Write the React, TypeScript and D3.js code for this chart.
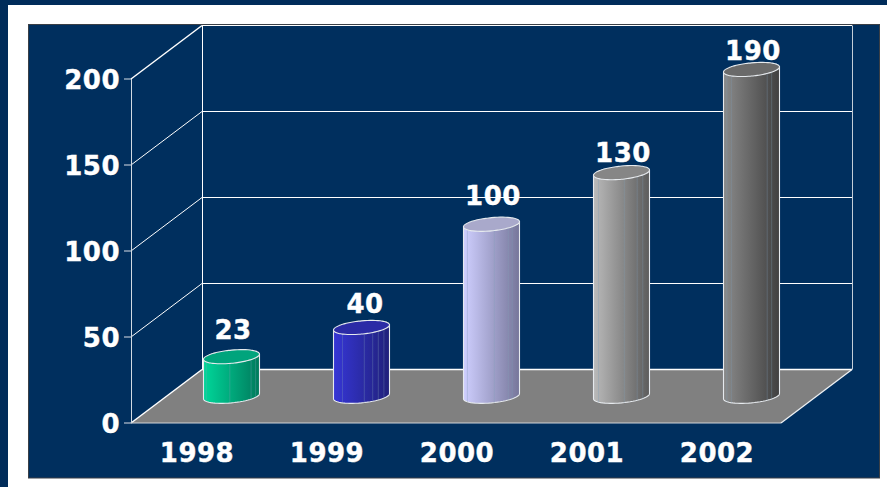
import { useEffect, useRef } from "react";
import * as d3 from "d3";

const years = ["1998", "1999", "2000", "2001", "2002"];
const values = [23, 40, 100, 130, 190];
const yTicks = [0, 50, 100, 150, 200];

// gradient stops: left light, right dark, and the flat top colour
const lightColors = ["#00d79a", "#3636d6", "#cfcfff", "#bababa", "#8a8a8a"];
const darkColors = ["#007a5c", "#20207a", "#76769a", "#5c5c5c", "#404040"];
const topColors = ["#00a47c", "#2b2ba6", "#a9a9cb", "#868686", "#6a6a6a"];

// the labels in the picture do not sit at a constant distance from the tops
const labelLift = [18, 14, 19, 11, 9];
// vertical streaks on the cylinder bodies, as a share of the width
const streaks = [
  [0.05, 0.47, 0.85, 0.93],
  [0.16, 0.55, 0.7, 0.8, 0.9],
  [0.07, 0.55, 0.8, 0.87],
  [0.09, 0.55, 0.78, 0.88],
  [0.06, 0.14, 0.78, 0.86],
];

const font = "'DejaVu Sans', Verdana, sans-serif";

export default function App() {
  const svgRef = useRef<SVGSVGElement>(null);

  useEffect(() => {
    if (!svgRef.current) return;
    const svg = d3.select(svgRef.current);
    svg.selectAll("*").remove();

    const depthX = 71;
    const depthY = -53.5;
    const x = d3.scaleBand<string>().domain(years).range([131, 781]).padding(0);
    const y = d3.scaleLinear().domain([0, 200]).range([423, 79]);
    const floorLeft = 131;
    const floorRight = 781;

    // page background and plot panel
    svg.append("rect").attr("width", 887).attr("height", 487).attr("fill", "#002c5a");
    svg.append("rect").attr("x", 8).attr("y", 5).attr("width", 879).attr("height", 482).attr("fill", "#ffffff");
    svg.append("rect").attr("x", 28.5).attr("y", 24.5).attr("width", 851).attr("height", 453.5).attr("fill", "#002f5e")
      .attr("stroke", "#3a3f46").attr("stroke-width", 1);

    const walls = svg.append("g").attr("fill", "none");

    // floor
    walls
      .append("polygon")
      .attr(
        "points",
        [
          [floorLeft, y(0)],
          [floorLeft + depthX, y(0) + depthY],
          [floorRight + depthX, y(0) + depthY],
          [floorRight, y(0)],
        ].join(" ")
      )
      .attr("fill", "#808080");

    // gridlines on the side and back walls
    yTicks.forEach((t) => {
      const yy = y(t);
      walls.append("line")
        .attr("x1", floorLeft).attr("y1", yy).attr("x2", floorLeft + depthX).attr("y2", yy + depthY)
        .attr("stroke", "#ffffff").attr("stroke-width", t === 0 || t === 200 ? 1.5 : 1);
      walls.append("line")
        .attr("x1", floorLeft + depthX).attr("y1", yy + depthY).attr("x2", floorRight + depthX).attr("y2", yy + depthY)
        .attr("stroke", "#ffffff").attr("stroke-width", t === 0 ? 1.6 : 1);
      walls.append("line")
        .attr("x1", floorLeft - 7).attr("y1", yy).attr("x2", floorLeft).attr("y2", yy)
        .attr("stroke", "#b8c4d0").attr("stroke-width", 1.2);
    });

    // wall edges
    const edge = (x1: number, y1: number, x2: number, y2: number, c: string, w = 1) =>
      walls.append("line").attr("x1", x1).attr("y1", y1).attr("x2", x2).attr("y2", y2).attr("stroke", c).attr("stroke-width", w);
    edge(floorLeft + 0.5, y(200), floorLeft + 0.5, y(0), "#d2dae2", 1);
    edge(floorLeft + depthX + 0.5, y(200) + depthY, floorLeft + depthX + 0.5, y(0) + depthY, "#ffffff");
    edge(floorRight + depthX + 0.5, y(200) + depthY, floorRight + depthX + 0.5, y(0) + depthY, "#c4ced8");
    edge(floorLeft, y(0), floorRight, y(0), "#d0d4d8", 1.2);
    edge(floorRight, y(0), floorRight + depthX, y(0) + depthY, "#eef1f4", 1.3);

    // cylinders
    const defs = svg.append("defs");
    const radius = 28;
    const ringX = (cx: number, t: number) => cx + radius * Math.cos(t);
    const ringY = (cy: number, t: number) => cy - 2.6 * Math.cos(t) - 6.6 * Math.sin(t);
    const angles = d3.range(0, 360, 6).map((a) => (a * Math.PI) / 180);
    const lowerAngles = d3.range(180, 361, 6).map((a) => (a * Math.PI) / 180);
    const ring = d3.line<[number, number]>().curve(d3.curveCatmullRomClosed);
    const open = d3.line<[number, number]>();

    const cylinders = svg.append("g");
    years.forEach((year, i) => {
      const cx = (x(year) || 0) + x.bandwidth() / 2 + depthX / 2;
      const baseY = y(0) + depthY / 2;
      const topY = baseY - (y(0) - y(values[i]));

      const grad = defs.append("linearGradient").attr("id", `body-${i}`).attr("x1", 0).attr("x2", 1).attr("y1", 0).attr("y2", 0);
      grad.append("stop").attr("offset", 0).attr("stop-color", lightColors[i]);
      grad.append("stop").attr("offset", 1).attr("stop-color", darkColors[i]);

      const bodyPts: [number, number][] = [
        [ringX(cx, Math.PI), ringY(topY, Math.PI)],
        ...lowerAngles.map((t): [number, number] => [ringX(cx, t), ringY(baseY, t)]),
        [ringX(cx, 0), ringY(topY, 0)],
      ];
      cylinders.append("path")
        .attr("d", open(bodyPts) + "Z")
        .attr("fill", `url(#body-${i})`)
        .attr("stroke", "#e6eaee")
        .attr("stroke-width", 1.1);

      streaks[i].forEach((s) => {
        const sx = cx - radius + s * radius * 2;
        const t = Math.acos((sx - cx) / radius);
        cylinders.append("line")
          .attr("x1", sx).attr("x2", sx)
          .attr("y1", ringY(topY, -t))
          .attr("y2", ringY(baseY, -t))
          .attr("stroke", "#7f9cb8")
          .attr("stroke-opacity", 0.4)
          .attr("stroke-width", 0.8);
      });

      cylinders.append("path")
        .attr("d", ring(angles.map((t): [number, number] => [ringX(cx, t), ringY(topY, t)])))
        .attr("fill", topColors[i])
        .attr("stroke", "#e6eaee")
        .attr("stroke-width", 1.1);

      svg.append("text")
        .attr("x", cx + (i === 1 ? 3.5 : 1.5))
        .attr("y", topY - labelLift[i])
        .attr("text-anchor", "middle")
        .style("font-family", font)
        .style("font-size", "26px")
        .style("font-weight", "700")
        .style("letter-spacing", "0.5px")
        .style("stroke", "#ffffff")
        .style("stroke-width", "0.4px")
        .style("fill", "#ffffff")
        .text(values[i]);
    });

    // axis labels
    const labels = svg.append("g")
      .style("font-family", font)
      .style("font-size", "26px")
      .style("font-weight", "700")
      .style("letter-spacing", "0.5px")
      .style("stroke", "#ffffff")
      .style("stroke-width", "0.4px")
      .style("fill", "#ffffff");
    yTicks.forEach((t) => {
      labels.append("text")
        .attr("x", floorLeft - 11)
        .attr("y", y(t) + 10)
        .attr("text-anchor", "end")
        .text(t);
    });
    years.forEach((year) => {
      labels.append("text")
        .attr("x", (x(year) || 0) + x.bandwidth() / 2 + 1)
        .attr("y", 461.5)
        .attr("text-anchor", "middle")
        .text(year);
    });
  }, []);

  return (
    <svg
      ref={svgRef}
      width={887}
      height={487}
      style={{ position: "absolute", left: 0, top: 0 }}
    />
  );
}
